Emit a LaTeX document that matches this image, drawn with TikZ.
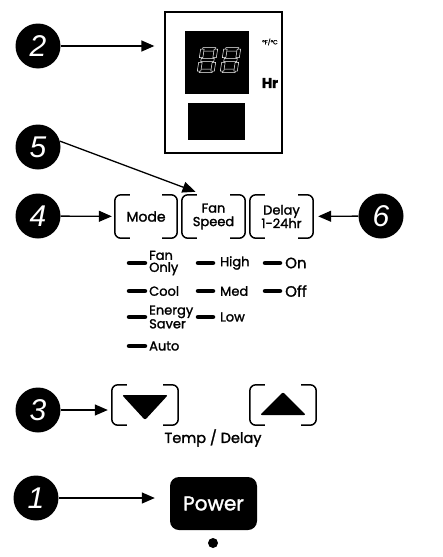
\documentclass[tikz,border=0pt]{standalone}
\usepackage{fontspec}
\setmainfont{Poppins}[RawFeature={embolden=1.6}]
\newfontfamily\numfont{Liberation Sans}
\usetikzlibrary{arrows.meta}
\tikzset{
  num/.style={circle, fill=black, minimum size=45pt, inner sep=0pt, text=white, font=\numfont\itshape\fontsize{30}{30}\selectfont},
  arr/.style={line width=1.3pt, -{Triangle[length=13pt,width=11pt]}},
  frame/.style={line width=1.5pt, rounded corners=6pt},
  btn/.style={minimum height=43pt, inner sep=0pt, align=center, font=\fontsize{13}{13.5}\selectfont},
  lamp/.style={line width=4.5pt, line cap=round},
  lbl/.style={anchor=west, inner sep=0pt, align=left, font=\fontsize{13}{12}\selectfont},
  seg/.style={draw=white, fill=black, line width=0.5pt}
}
\newcommand{\btnframe}[1]{%
  \draw[frame] ([xshift=15pt]#1.north west) -- (#1.north west) -- (#1.south west) -- ([xshift=15pt]#1.south west);
  \draw[frame] ([xshift=-15pt]#1.north east) -- (#1.north east) -- (#1.south east) -- ([xshift=-15pt]#1.south east);}
\newcommand{\eight}[1]{%
  \begin{scope}[xshift=#1]
  \draw[seg] (2,-12.5) rectangle (15,-9);
  \draw[seg] (2,-1.7) rectangle (15,1.7);
  \draw[seg] (2,9) rectangle (15,12.5);
  \draw[seg] (0,-11) rectangle (3.5,-2.3);
  \draw[seg] (13.5,-11) rectangle (17,-2.3);
  \draw[seg] (0,2.3) rectangle (3.5,11);
  \draw[seg] (13.5,2.3) rectangle (17,11);
  \end{scope}}
\begin{document}
\begin{tikzpicture}[x=1pt, y=-1pt]
\useasboundingbox (0,0) rectangle (442,557);
% display
\node[draw, line width=1.3pt, minimum width=117pt, minimum height=141pt] (disp) at (223.5,82.5) {};
\fill (185,31) rectangle (249,94);
\begin{scope}[shift={(219,60)}, xslant=0.15]
\eight{-20pt}
\eight{3pt}
\end{scope}
\fill (188,103) rectangle (245,140);
\node[font=\fontsize{6}{6}\selectfont, inner sep=0pt] (unit) at (270,42) {°F/°C};
\node[font=\fontsize{14}{14}\selectfont\bfseries, inner sep=0pt] (hr) at (270,83) {Hr};
% numbered circles
\node[num] (c2) at (38,46) {2};
\node[num] (c5) at (38,147) {5};
\node[num] (c4) at (38,216) {4};
\node[num] (c6) at (381,216) {6};
\node[num] (c3) at (38,410) {3};
\node[num] (c1) at (36,498) {1};
% buttons
\node[btn, minimum width=62pt, font=\fontsize{14}{14}\selectfont] (mode) at (146,216.5) {Mode};
\node[btn, minimum width=63pt] (fan) at (213.5,216.5) {Fan\\Speed};
\node[btn, minimum width=63pt] (delay) at (281.5,216.5) {Delay\\1-24hr};
\btnframe{mode}
\btnframe{fan}
\btnframe{delay}
% indicators
\foreach \y/\txt/\nm in {263/Fan\\Only/fo, 291/Cool/co, 317/Energy\\Saver/es, 346/Auto/au}{
  \draw[lamp] (129,\y) -- (145,\y);
  \node[lbl] (\nm) at (149,\y) {\txt};
}
\foreach \y/\txt/\nm in {263/High/hi, 291/Med/me, 317/Low/lo}{
  \draw[lamp] (198,\y) -- (213,\y);
  \node[lbl] (\nm) at (220,\y) {\txt};
}
\foreach \y/\txt/\nm in {263/On/on, 291/Off/of}{
  \draw[lamp] (265,\y) -- (280,\y);
  \node[lbl, font=\fontsize{15}{15}\selectfont] (\nm) at (285,\y) {\txt};
}
% temp buttons
\node[minimum width=66pt, minimum height=40pt, inner sep=0pt] (dn) at (145,405) {};
\node[minimum width=66pt, minimum height=40pt, inner sep=0pt] (up) at (283,405) {};
\btnframe{dn}
\btnframe{up}
\fill[shift={(dn.center)}, rounded corners=2pt] (-23,-10) -- (23,-10) -- (0,15) -- cycle;
\fill[shift={(up.center)}, rounded corners=2pt] (-23,10) -- (23,10) -- (0,-13) -- cycle;
\node[font=\fontsize{14.5}{14.5}\selectfont, inner sep=0pt] (td) at (213,438) {Temp / Delay};
% power
\node[fill=black, rounded corners=9pt, minimum width=87pt, minimum height=53pt, text=white, font=\fontsize{20}{20}\selectfont] (pw) at (213.5,503.5) {Power};
\node[circle, fill=black, minimum size=10pt, inner sep=0pt] (dot) at (213,543) {};
% arrows
\draw[arr, shorten >=10pt] (c2) -- (c2 -| disp.west);
\draw[arr] (c5.15) -- ([xshift=-18pt,yshift=3pt]fan.north);
\draw[arr, shorten >=3pt] (c4) -- (mode);
\draw[arr, shorten >=5pt] (c6) -- (delay);
\draw[arr, shorten >=4pt] (c3) -- (c3 -| dn.west);
\draw[arr, shorten >=15pt] (c1) -- (c1 -| pw.west);
\end{tikzpicture}
\end{document}
